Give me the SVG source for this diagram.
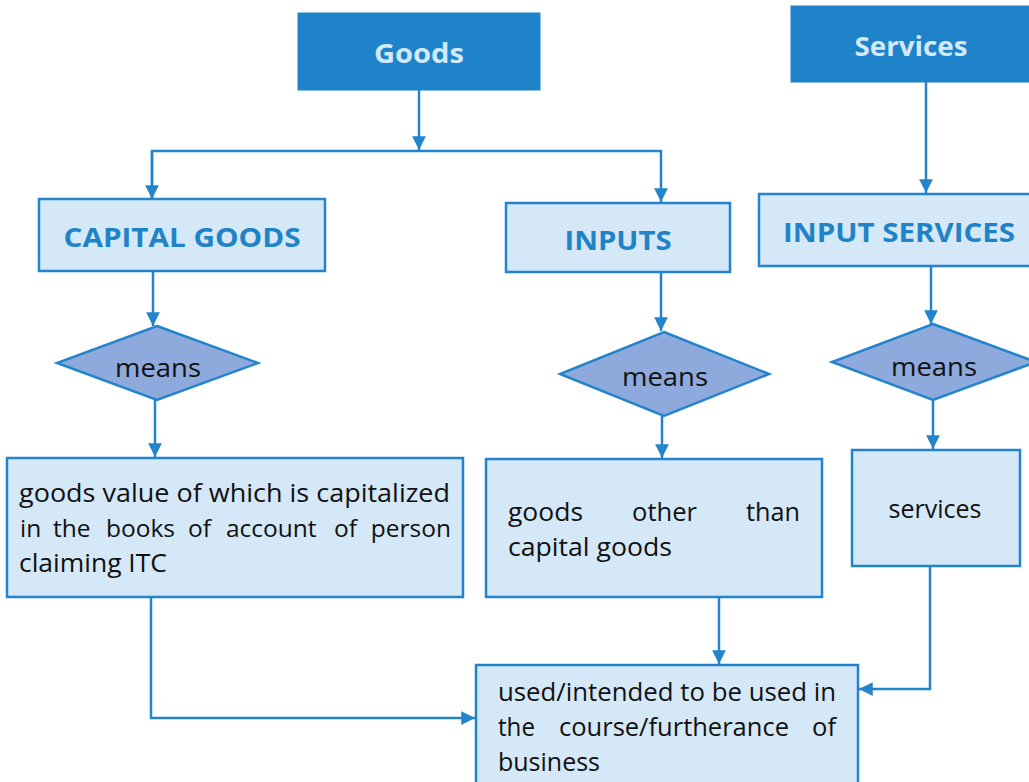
<svg xmlns="http://www.w3.org/2000/svg" width="1029" height="782" viewBox="0 0 1029 782">
<defs>
<style>
.hdr{fill:#1e83c8;stroke:#1e83c8;stroke-width:1}
.hdrt{fill:#d3e8f8;font-family:"Open Sans","Liberation Sans",sans-serif;font-weight:bold;font-size:26px;text-anchor:middle}
.box{fill:#d4e8f7;stroke:#2384cc;stroke-width:2.5}
.boxt{fill:#1f83c7;font-family:"Open Sans","Liberation Sans",sans-serif;font-weight:bold;font-size:26px;text-anchor:middle}
.dia{fill:#8eaadd;stroke:#2384cc;stroke-width:2.5}
.t{fill:#111;font-family:"Open Sans","Liberation Sans",sans-serif;font-size:25px}
.tw{fill:#111;font-family:"Open Sans","Liberation Sans",sans-serif;font-size:24.5px}
.tm{fill:#111;font-family:"Open Sans","Liberation Sans",sans-serif;font-size:25px;text-anchor:middle}
.c{fill:none;stroke:#2384cc;stroke-width:2.5}
</style>
<marker id="ah" viewBox="0 0 10 10" refX="10" refY="5" markerWidth="5.5" markerHeight="5.5" orient="auto" markerUnits="strokeWidth">
<path d="M0,0 L10,5 L0,10 z" fill="#2384cc"/>
</marker>
</defs>
<rect width="1029" height="782" fill="#ffffff"/>
<g id="connectors">
<path class="c" d="M419,90 V150" marker-end="url(#ah)"/>
<path class="c" d="M152,199 V151 H661 V202" marker-end="url(#ah)"/>
<path class="c" d="M152,151 V199" marker-end="url(#ah)"/>
<path class="c" d="M926,82 V193" marker-end="url(#ah)"/>
<path class="c" d="M153,272 V326" marker-end="url(#ah)"/>
<path class="c" d="M661,273 V331" marker-end="url(#ah)"/>
<path class="c" d="M931,267 V324" marker-end="url(#ah)"/>
<path class="c" d="M155,400 V457" marker-end="url(#ah)"/>
<path class="c" d="M662,416 V458" marker-end="url(#ah)"/>
<path class="c" d="M933,400 V449" marker-end="url(#ah)"/>
<path class="c" d="M151,597 V718 H475" marker-end="url(#ah)"/>
<path class="c" d="M719,597 V664" marker-end="url(#ah)"/>
<path class="c" d="M930,566 V689 H859" marker-end="url(#ah)"/>
</g>
<g id="goods">
<rect class="hdr" x="298" y="13" width="242" height="77"/>
<text class="hdrt" x="419" y="63" textLength="90" lengthAdjust="spacingAndGlyphs">Goods</text>
</g>
<g id="services">
<rect class="hdr" x="791" y="6" width="245" height="76"/>
<text class="hdrt" x="911" y="56" textLength="113" lengthAdjust="spacingAndGlyphs">Services</text>
</g>
<g id="capital-goods">
<rect class="box" x="39" y="199" width="286" height="72"/>
<text class="boxt" x="182" y="247" textLength="237" lengthAdjust="spacingAndGlyphs">CAPITAL GOODS</text>
</g>
<g id="inputs">
<rect class="box" x="506" y="203" width="224" height="69"/>
<text class="boxt" x="618" y="250" textLength="107" lengthAdjust="spacingAndGlyphs">INPUTS</text>
</g>
<g id="input-services">
<rect class="box" x="759" y="194" width="280" height="72"/>
<text class="boxt" x="899" y="242" textLength="232" lengthAdjust="spacingAndGlyphs">INPUT SERVICES</text>
</g>
<g id="means-1">
<polygon class="dia" points="157,326 258,363 157,400 57,363"/>
<text class="tm" x="158" y="377" textLength="86" lengthAdjust="spacingAndGlyphs">means</text>
</g>
<g id="means-2">
<polygon class="dia" points="664,332 769,374 664,416 560,374"/>
<text class="tm" x="665" y="386" textLength="86" lengthAdjust="spacingAndGlyphs">means</text>
</g>
<g id="means-3">
<polygon class="dia" points="933,324 1036,362 933,400 832,362"/>
<text class="tm" x="934" y="376" textLength="86" lengthAdjust="spacingAndGlyphs">means</text>
</g>
<g id="capital-goods-def">
<rect class="box" x="7" y="458" width="456" height="139"/>
<text class="t" x="19" y="502" textLength="431" lengthAdjust="spacingAndGlyphs">goods value of which is capitalized</text>
<text class="tw" x="20" y="537">in</text>
<text class="tw" x="53" y="537">the</text>
<text class="tw" x="106" y="537">books</text>
<text class="tw" x="188" y="537">of</text>
<text class="tw" x="226" y="537">account</text>
<text class="tw" x="334" y="537">of</text>
<text class="tw" x="451" y="537" text-anchor="end">person</text>
<text class="t" x="19" y="572" textLength="148" lengthAdjust="spacingAndGlyphs">claiming ITC</text>
</g>
<g id="inputs-def">
<rect class="box" x="486" y="459" width="336" height="138"/>
<text class="t" x="508" y="521" textLength="75" lengthAdjust="spacingAndGlyphs">goods</text>
<text class="t" x="632" y="521" textLength="65" lengthAdjust="spacingAndGlyphs">other</text>
<text class="t" x="746" y="521" textLength="54" lengthAdjust="spacingAndGlyphs">than</text>
<text class="t" x="508" y="556" textLength="164" lengthAdjust="spacingAndGlyphs">capital goods</text>
</g>
<g id="services-def">
<rect class="box" x="852" y="450" width="168" height="116"/>
<text class="tm" x="935" y="518" textLength="93" lengthAdjust="spacingAndGlyphs">services</text>
</g>
<g id="business">
<rect class="box" x="476" y="665" width="382" height="130"/>
<text class="t" x="498" y="701" textLength="338" lengthAdjust="spacingAndGlyphs">used/intended to be used in</text>
<text class="t" x="498" y="736" textLength="37" lengthAdjust="spacingAndGlyphs">the</text>
<text class="t" x="559" y="736" textLength="230" lengthAdjust="spacingAndGlyphs">course/furtherance</text>
<text class="t" x="812" y="736" textLength="24" lengthAdjust="spacingAndGlyphs">of</text>
<text class="t" x="498" y="771" textLength="102" lengthAdjust="spacingAndGlyphs">business</text>
</g>
</svg>
